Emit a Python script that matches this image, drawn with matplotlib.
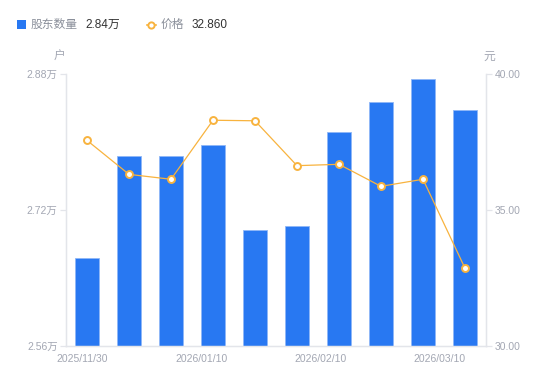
import numpy as np
import matplotlib
matplotlib.use('Agg')
import matplotlib.pyplot as plt
from matplotlib.lines import Line2D
from matplotlib.patches import Rectangle

plt.rcParams['font.family'] = ['Liberation Sans', 'Noto Sans CJK SC', 'DejaVu Sans']

# holders (10k households) and price (yuan) per reporting date
holders = [2.664, 2.783, 2.784, 2.796, 2.696, 2.701, 2.812, 2.847, 2.874, 2.838]
price = [37.56, 36.31, 36.13, 38.30, 38.28, 36.63, 36.68, 35.87, 36.13, 32.86]
date_labels = ['2025/11/30', '2026/01/10', '2026/02/10', '2026/03/10']
left_ticks = [2.56, 2.72, 2.88]
right_ticks = [30, 35, 40]

BLUE = '#2878f2'
ORANGE = '#f8b33e'
GRAY = '#a3a7b3'
AXIS = '#e3e5ea'

fig = plt.figure(figsize=(5.5, 3.81), dpi=100)
W, H = 550, 381
ax = fig.add_axes([66 / W, 1 - 346 / H, 420 / W, 272 / H])
ax2 = ax.twinx()

x = np.arange(len(holders))
ax.bar(x, holders, width=0.57, color=BLUE, edgecolor='#8fb7f7', linewidth=0.6, zorder=2)
ax.set_xlim(-0.5, len(holders) - 0.5)
ax.set_ylim(left_ticks[0], left_ticks[-1])
ax.set_yticks(left_ticks)
ax.set_yticklabels([f'{v:.2f}万' for v in left_ticks])

ax2.plot(x, price, color=ORANGE, linewidth=0.9, marker='o', markersize=5,
         markerfacecolor='white', markeredgecolor=ORANGE, markeredgewidth=1.4, zorder=3)
ax2.set_ylim(right_ticks[0], right_ticks[-1])
ax2.set_yticks(right_ticks)
ax2.set_yticklabels([f'{v:.2f}' for v in right_ticks])

# date labels spread evenly across the axis
tick_pos = np.linspace(-0.12, 8.40, len(date_labels))
ax.set_xticks(tick_pos)
ax.set_xticklabels(date_labels)

for a in (ax, ax2):
    for s in a.spines.values():
        s.set_color(AXIS)
        s.set_linewidth(0.9)
    a.spines['top'].set_visible(False)
    a.tick_params(axis='y', colors=AXIS, labelcolor=GRAY, labelsize=7.5, length=4, width=0.9, pad=2)
    a.tick_params(axis='x', length=0, labelcolor=GRAY, labelsize=7.5, pad=6)
ax.set_zorder(ax2.get_zorder() - 1)
ax2.patch.set_visible(False)

# unit labels
fig.text(59 / W, 1 - 57 / H, '户', color=GRAY, fontsize=8.5, ha='center', va='center')
fig.text(489 / W, 1 - 57 / H, '元', color=GRAY, fontsize=8.5, ha='center', va='center')

# legend at top
ly = 1 - 24.5 / H
fig.patches.append(Rectangle((16.5 / W, 1 - 29 / H), 9 / W, 9 / H, transform=fig.transFigure,
                             facecolor=BLUE, edgecolor='none'))
fig.text(31 / W, ly, '股东数量', color='#8a8f9a', fontsize=8.5, va='center')
fig.text(85 / W, ly, f'{holders[-1]:.2f}万', color='#333333', fontsize=8.5, va='center')
fig.add_artist(Line2D([146.5 / W, 155.5 / W], [ly, ly], transform=fig.transFigure,
                      color=ORANGE, linewidth=1.2))
fig.add_artist(Line2D([151 / W], [ly], transform=fig.transFigure, color=ORANGE,
                      marker='o', markersize=4.5, markerfacecolor='white', markeredgewidth=1.4))
fig.text(161 / W, ly, '价格', color='#8a8f9a', fontsize=8.5, va='center')
fig.text(192 / W, ly, f'{price[-1]:.3f}', color='#333333', fontsize=8.5, va='center')

fig.savefig('out.png', dpi=100)
